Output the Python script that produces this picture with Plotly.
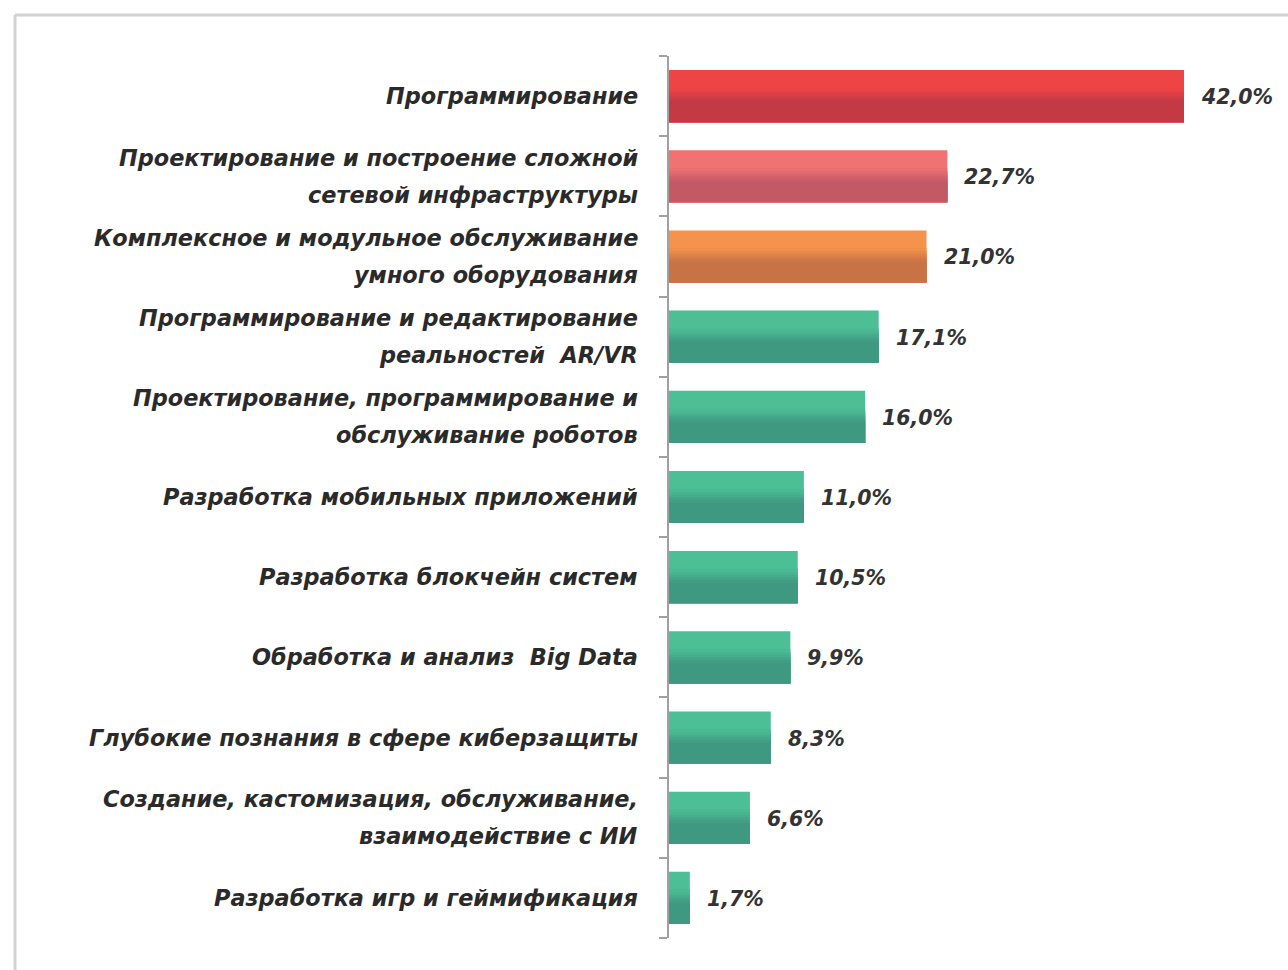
import plotly.graph_objects as go

# ---- data ----
categories = [
    "Программирование",
    "Проектирование и построение сложной\nсетевой инфраструктуры",
    "Комплексное и модульное обслуживание\nумного оборудования",
    "Программирование и редактирование\nреальностей  AR/VR",
    "Проектирование, программирование и\nобслуживание роботов",
    "Разработка мобильных приложений",
    "Разработка блокчейн систем",
    "Обработка и анализ  Big Data",
    "Глубокие познания в сфере киберзащиты",
    "Создание, кастомизация, обслуживание,\nвзаимодействие с ИИ",
    "Разработка игр и геймификация",
]
values = [42.0, 22.7, 21.0, 17.1, 16.0, 11.0, 10.5, 9.9, 8.3, 6.6, 1.7]

# ---- styles ----
top_colors = ["#EF4444", "#F07272", "#F5924C"] + ["#4DBF96"] * 8
bot_colors = ["#C33A45", "#C25A66", "#C87345"] + ["#3F9981"] * 8

W, H = 1288, 970
AX_X = 669      # px of value axis line
PLOT_TOP, PLOT_BOT = 56, 938
BAR_W = 0.65
LINE_GAP = 37
FONT = "DejaVu Sans"


def hex2rgb(h):
    h = h.lstrip("#")
    return tuple(int(h[i:i + 2], 16) for i in (0, 2, 4))


def mix(c1, c2, t):
    a, b = hex2rgb(c1), hex2rgb(c2)
    return "rgb(%d,%d,%d)" % tuple(round(a[i] + (b[i] - a[i]) * t) for i in range(3))


# gradient stops: (fraction from top where band starts, blend amount)
stops = [(0.0, 0.0), (0.34, 0.12), (0.40, 0.3), (0.45, 0.5), (0.50, 0.7),
         (0.55, 0.88), (0.60, 1.0)]

fig = go.Figure()
ycats = list(range(len(categories)))
for f0, t in stops:
    fig.add_trace(go.Bar(
        x=values, y=ycats, orientation="h",
        offset=-BAR_W / 2 + BAR_W * f0, width=BAR_W * (1 - f0),
        marker=dict(color=[mix(a, b, t) for a, b in zip(top_colors, bot_colors)],
                    line=dict(width=0)),
        hoverinfo="skip", showlegend=False,
    ))

annotations = []
# value labels
for i, v in enumerate(values):
    annotations.append(dict(
        x=v, y=i, xref="x", yref="y", xanchor="left", yanchor="middle",
        xshift=15, yshift=-1, showarrow=False,
        text=("%.1f%%" % v).replace(".", ","),
        font=dict(family=FONT, size=20.5, color="#333333", style="italic", weight=600),
    ))
# category labels, each line placed separately for line spacing
for i, lab in enumerate(categories):
    lines = lab.split("\n")
    n = len(lines)
    for k, ln in enumerate(lines):
        annotations.append(dict(
            x=0, y=i, xref="x", yref="y", xanchor="right", yanchor="middle",
            xshift=-29, yshift=((n - 1) / 2 - k) * LINE_GAP, showarrow=False,
            text=ln,
            font=dict(family=FONT, size=22.4, color="#2a2a2a", style="italic", weight=600),
        ))

x_dom0 = AX_X / W
px_per_unit = (1184 - AX_X) / 42.0
x_max = (W - AX_X) / px_per_unit

fig.update_layout(
    width=W, height=H,
    margin=dict(l=0, r=0, t=0, b=0),
    paper_bgcolor="white", plot_bgcolor="white",
    barmode="overlay",
    annotations=annotations,
    xaxis=dict(domain=[x_dom0, 1], range=[0, x_max], visible=False, fixedrange=True),
    yaxis=dict(
        domain=[1 - PLOT_BOT / H, 1 - PLOT_TOP / H],
        range=[len(categories) - 0.5, -0.5],
        tickmode="array", tickvals=[i - 0.5 for i in range(len(categories) + 1)],
        ticktext=[""] * (len(categories) + 1),
        ticks="outside", ticklen=8, tickcolor="#a0a0a0", tickwidth=1.5,
        showline=True, linecolor="#a0a0a0", linewidth=1.5,
        showgrid=False, zeroline=False, fixedrange=True,
    ),
    shapes=[
        dict(type="line", xref="paper", yref="paper",
             x0=15 / W, x1=1.01, y0=1 - 15 / H, y1=1 - 15 / H,
             line=dict(color="#d2d2d2", width=3)),
        dict(type="line", xref="paper", yref="paper",
             x0=15 / W, x1=15 / W, y0=1 - 15 / H, y1=-0.01,
             line=dict(color="#d2d2d2", width=3)),
    ],
)

fig.write_html("out.html", config={"displayModeBar": False},
               post_script="document.body.style.margin='0';document.body.style.overflow='hidden';")
